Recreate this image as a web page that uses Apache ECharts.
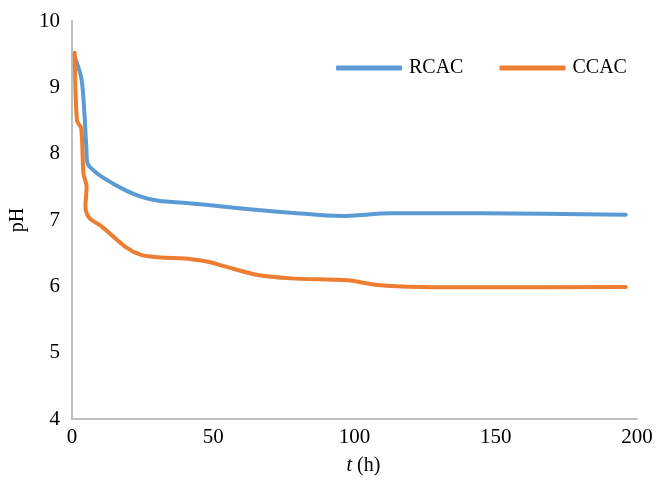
<!DOCTYPE html>
<html><head><meta charset="utf-8">
<script src="https://cdn.jsdelivr.net/npm/echarts@6/dist/echarts.min.js"></script>
<style>html,body{margin:0;padding:0;background:#fff}#c{width:656px;height:482px}</style>
</head><body><div id="c"></div>
<script>
const rcacT  = [1.16, 3.5, 5.1, 5.5, 7.05, 10.6, 18.8, 24.7, 30.6, 42.3, 54.1, 65.9, 77.6, 95.2, 112.9, 144.6, 196];
const rcacPH = [9.44, 9.1, 8.1, 7.86, 7.77, 7.65, 7.45, 7.35, 7.29, 7.25, 7.2, 7.15, 7.11, 7.06, 7.1, 7.1, 7.08];
const ccacT  = [1.0, 1.8, 3.3, 4.1, 5.2, 4.8, 6.2, 10.6, 18.8, 24.7, 30.6, 42.3, 48.2, 54.1, 65.9, 77.6, 97.6, 108.2, 123.5, 144.6, 196];
const ccacPH = [9.52, 8.5, 8.38, 7.7, 7.5, 7.2, 7.03, 6.9, 6.6, 6.47, 6.44, 6.41, 6.37, 6.3, 6.17, 6.12, 6.09, 6.02, 5.99, 5.985, 5.99];
const xTicks = [0, 50, 100, 150, 200];
const yTicks = [4, 5, 6, 7, 8, 9, 10];

const pair = (t, v) => t.map((x, i) => [x, v[i]]);
const font = 'Liberation Serif, DejaVu Serif, serif';
const chart = echarts.init(document.getElementById('c'));
chart.setOption({
  animation: false,
  textStyle: { fontFamily: font },
  grid: { left: 70, right: 19, top: 21, bottom: 63 },
  legend: {
    left: 331, top: 53,
    itemWidth: 66, itemHeight: 5, itemGap: 36,
    textStyle: { fontFamily: font, fontSize: 20, color: '#000', padding: [0, 0, 0, 2] },
    data: [{ name: 'RCAC', icon: 'roundRect' }, { name: 'CCAC', icon: 'roundRect' }]
  },
  xAxis: {
    type: 'value', min: xTicks[0], max: xTicks[xTicks.length - 1], interval: 50,
    axisLine: { lineStyle: { color: '#BFBFBF', width: 2 } },
    axisTick: { show: false }, splitLine: { show: false },
    axisLabel: { color: '#000', fontSize: 21, fontFamily: font, margin: 8 },
    name: '{i|t} (h)', nameLocation: 'middle', nameGap: 37,
    nameTextStyle: { color: '#000', fontSize: 20, fontFamily: font, padding: [0, 0, 0, 18],
      rich: { i: { fontStyle: 'italic', fontSize: 20, fontFamily: font, color: '#000' } } }
  },
  yAxis: {
    type: 'value', min: yTicks[0], max: yTicks[yTicks.length - 1], interval: 1,
    axisLine: { show: true, lineStyle: { color: '#BFBFBF', width: 2 } },
    axisTick: { show: false }, splitLine: { show: false },
    axisLabel: { color: '#000', fontSize: 21, fontFamily: font, margin: 12 },
    name: 'pH', nameLocation: 'middle', nameGap: 34, nameRotate: 90,
    nameTextStyle: { color: '#000', fontSize: 20, fontFamily: font }
  },
  series: [
    { name: 'RCAC', type: 'line', data: pair(rcacT, rcacPH), smooth: 0.3, symbol: 'none',
      lineStyle: { color: '#5B9BD5', width: 4, cap: 'round' }, itemStyle: { color: '#5B9BD5' } },
    { name: 'CCAC', type: 'line', data: pair(ccacT, ccacPH), smooth: 0.3, symbol: 'none',
      lineStyle: { color: '#ED7D31', width: 4, cap: 'round' }, itemStyle: { color: '#ED7D31' } }
  ]
});
</script></body></html>
